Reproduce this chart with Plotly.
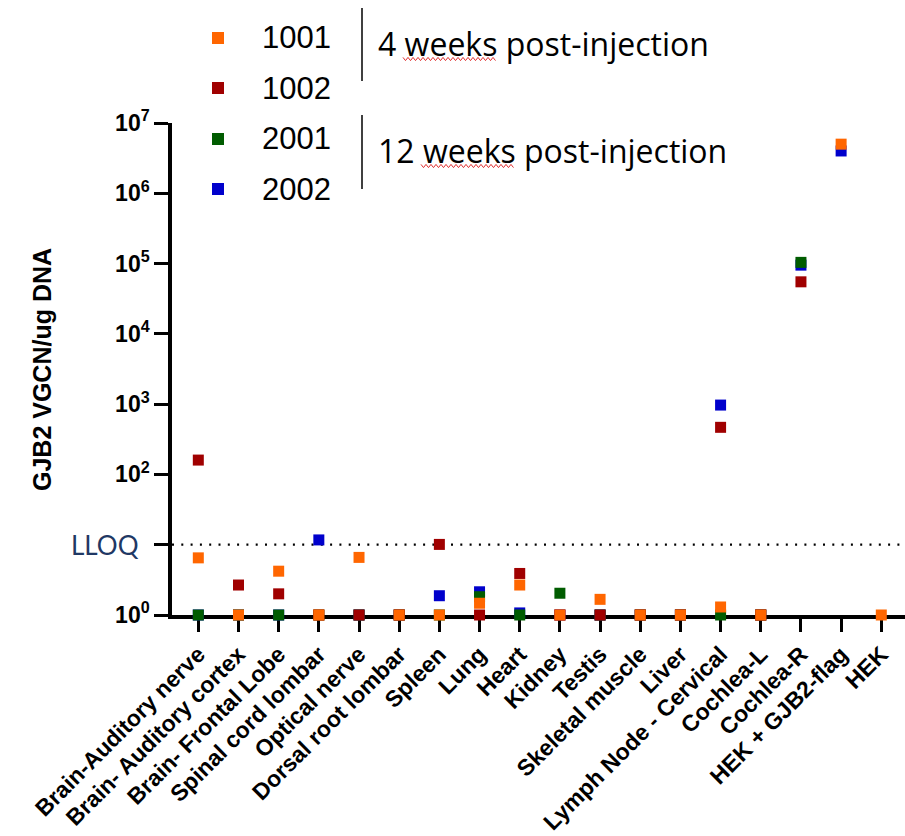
import math
import plotly.graph_objects as go

# Tissues / samples on the x axis
tissues = [
    "Brain-Auditory nerve", "Brain- Auditory cortex", "Brain- Frontal Lobe",
    "Spinal cord lombar", "Optical nerve", "Dorsal root lombar", "Spleen",
    "Lung", "Heart", "Kidney", "Testis", "Skeletal muscle", "Liver",
    "Lymph Node - Cervical", "Cochlea-L", "Cochlea-R", "HEK + GJB2-flag", "HEK",
]

# GJB2 vector genome copies per ug DNA for each animal (None = not measured)
animal_1001 = [6.5, 1, 4.2, 1, 6.6, 1, 1, 1.47, 2.67, 1, 1.67, 1, 1, 1.3, 1, None, 5.0e6, 1]
animal_1002 = [160, 2.67, 2.0, 1, 1, 1, 10.1, 1, 3.9, 1, 1, 1, 1, 468, 1, 5.5e4, None, None]
animal_2001 = [1, 1, 1, 1, 1, 1, 1, 1.82, 1, 2.04, 1, 1, 1, 1, 1, 1.04e5, None, None]
animal_2002 = [1, 1, 1, 11.7, 1, 1, 1.88, 2.14, 1.07, 1, 1, 1, 1, 970, 1, 9.5e4, 4.0e6, None]

animal_ids = ["1001", "1002", "2001", "2002"]
animal_colors = ["#FF6600", "#A00000", "#005C00", "#0000CC"]
animal_values = [animal_1001, animal_1002, animal_2001, animal_2002]

group_labels = ["4 weeks post-injection", "12 weeks post-injection"]

lloq = 10
y_decades = [0, 7]
y_tick_vals = [1, 10, 100, 1e3, 1e4, 1e5, 1e6, 1e7]
y_tick_text = ["10<sup>0</sup>", "", "10<sup>2</sup>", "10<sup>3</sup>",
               "10<sup>4</sup>", "10<sup>5</sup>", "10<sup>6</sup>", "10<sup>7</sup>"]

# ---- figure geometry (pixels) ----
W, H = 905, 836
ML, MR, MT, MB = 172, 0, 123, 221
PW, PH = W - ML - MR, H - MT - MB
x_range = [-0.655, 17.59]


def px(xp):
    return (xp - ML) / PW


def py(yp):
    return (H - MB - yp) / PH


fig = go.Figure()

# Later animals are drawn first so the 4-week animals sit on top
for name, color, vals in reversed(list(zip(animal_ids, animal_colors, animal_values))):
    fig.add_trace(go.Scatter(
        x=tissues, y=vals, mode="markers", name=name,
        marker=dict(symbol="square", size=11, color=color, line=dict(width=0)),
        cliponaxis=False, showlegend=False,
    ))

font_bold = "Liberation Sans"

fig.update_layout(
    width=W, height=H,
    margin=dict(l=ML, r=MR, t=MT, b=MB, pad=0),
    plot_bgcolor="white", paper_bgcolor="white",
    showlegend=False,
    xaxis=dict(
        type="category", range=x_range, automargin=False,
        showline=True, linecolor="black", linewidth=3.5,
        ticks="outside", ticklen=13, tickwidth=3, tickcolor="black",
        tickangle=-45, showgrid=False, zeroline=False, layer="below traces",
        tickfont=dict(family=font_bold, size=23, color="black", weight="bold"),
    ),
    yaxis=dict(
        type="log", range=y_decades, automargin=False,
        tickvals=y_tick_vals, ticktext=y_tick_text,
        showline=True, linecolor="black", linewidth=3.5,
        ticks="outside", ticklen=14, tickwidth=3, tickcolor="black",
        showgrid=False, zeroline=False, layer="below traces",
        tickfont=dict(family=font_bold, size=23, color="black", weight="bold"),
    ),
)

annotations = []
shapes = []

# LLOQ reference line (dotted) across the plot
lloq_frac = (math.log10(lloq) - y_decades[0]) / (y_decades[1] - y_decades[0])
shapes.append(dict(
    type="line", xref="paper", yref="paper", x0=0, x1=1, y0=lloq_frac, y1=lloq_frac,
    line=dict(color="black", width=2.2, dash="2px,7.3px"), layer="below",
))

# y-axis title
annotations.append(dict(
    text="<b>GJB2 VGCN/ug DNA</b>", xref="paper", yref="paper",
    x=px(42), y=py(370), xanchor="center", yanchor="middle", textangle=-90,
    showarrow=False, font=dict(family=font_bold, size=25, color="black"),
))

# LLOQ label next to its tick
annotations.append(dict(
    text="LLOQ", xref="paper", yref="paper",
    x=px(141), y=lloq_frac, xanchor="right", yanchor="middle",
    showarrow=False, font=dict(family="Lato", size=26, color="#1F3864"),
))

# Legend: coloured squares with animal IDs, grouped by time point
legend_y = [38, 88, 139, 189]
for name, color, yy in zip(animal_ids, animal_colors, legend_y):
    shapes.append(dict(
        type="rect", xref="paper", yref="paper",
        x0=px(212), x1=px(224), y0=py(yy + 6), y1=py(yy - 6),
        fillcolor=color, line=dict(width=0),
    ))
    annotations.append(dict(
        text=name, xref="paper", yref="paper", x=px(260), y=py(yy),
        xanchor="left", yanchor="middle", showarrow=False,
        font=dict(family="Liberation Sans", size=31, color="black"),
    ))


def wavy_path(x0, x1, y, amp=1.6, step=2.5):
    """Zig-zag underline path in paper coordinates."""
    pts = []
    x, up = x0, True
    while x <= x1:
        pts.append((px(x), py(y - amp if up else y + amp)))
        x += step
        up = not up
    return "M " + " L ".join(f"{a:.5f},{b:.5f}" for a, b in pts)


group_layout = [(8, 81, 43, 403, 497), (115, 189, 150, 421, 515)]
for (y_top, y_bot, y_txt, w0, w1), label in zip(group_layout, group_labels):
    shapes.append(dict(
        type="line", xref="paper", yref="paper",
        x0=px(362), x1=px(362), y0=py(y_top), y1=py(y_bot),
        line=dict(color="black", width=1.5),
    ))
    annotations.append(dict(
        text=label, xref="paper", yref="paper", x=px(376), y=py(y_txt),
        xanchor="left", yanchor="middle", showarrow=False,
        font=dict(family="Open Sans", size=32, color="black"),
    ))
    # proofing underline beneath "weeks"
    shapes.append(dict(
        type="path", xref="paper", yref="paper", path=wavy_path(w0, w1, y_txt + 16),
        line=dict(color="#E03030", width=1),
    ))

fig.update_layout(annotations=annotations, shapes=shapes)

fig.write_html("out.html")
